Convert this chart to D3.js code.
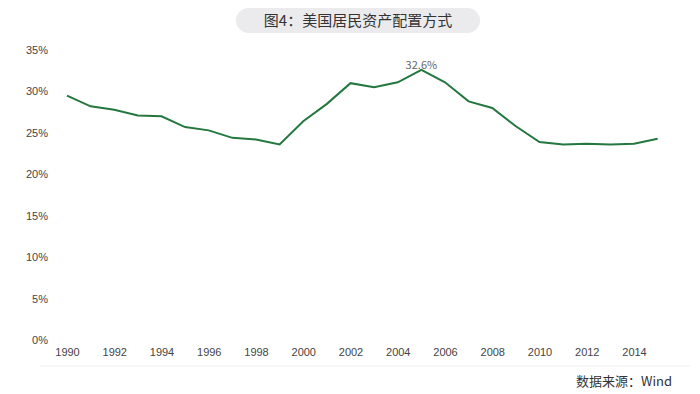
<!DOCTYPE html>
<html>
<head>
<meta charset="utf-8">
<script src="https://cdn.jsdelivr.net/npm/d3@7"></script>
<style>
  body { margin: 0; background: #fff; }
  svg { display: block; font-family: "Microsoft YaHei", "Noto Sans CJK SC", "Open Sans", sans-serif; }
</style>
</head>
<body>
<svg width="700" height="394"></svg>
<script>
const years = d3.range(1990, 2016);
const shares = [29.5, 28.2, 27.8, 27.1, 27.0, 25.7, 25.3, 24.4, 24.2, 23.6,
  26.4, 28.5, 31.0, 30.5, 31.1, 32.6, 31.1, 28.8, 28.0, 25.8,
  23.9, 23.6, 23.7, 23.6, 23.7, 24.3];
const yTicks = [0, 5, 10, 15, 20, 25, 30, 35];
const xTicks = d3.range(1990, 2015, 2);
const title = '图4：美国居民资产配置方式';
const source = '数据来源：Wind';

let svg = d3.select('svg');

const x = d3.scaleLinear().domain([1990, 2014]).range([67, 634]);
const y = d3.scaleLinear().domain([0, 35]).range([340, 50]);

// title pill
svg.append('rect')
    .attr('x', 236).attr('y', 8).attr('width', 244).attr('height', 25)
    .attr('rx', 12.5)
    .attr('fill', '#ebebee');
svg.append('text')
    .attr('x', 358).attr('y', 26)
    .attr('text-anchor', 'middle')
    .attr('font-size', 15)
    .attr('fill', '#333')
    .text(title);

// y axis labels
svg.append('g')
    .attr('transform', 'translate(48, 0)')
    .call(d3.axisLeft(y).tickValues(yTicks).tickSize(0).tickPadding(0).tickFormat(d => d + '%'))
    .call(g => g.select('.domain').remove())
    .call(g => g.selectAll('text').attr('font-size', 11).attr('fill', '#444').attr('font-family', 'inherit'));

// x axis labels
svg.append('g')
    .attr('transform', 'translate(0, 348)')
    .call(d3.axisBottom(x).tickValues(xTicks).tickSize(0).tickPadding(0).tickFormat(d3.format('d')))
    .call(g => g.select('.domain').remove())
    .call(g => g.selectAll('text').attr('font-size', 11).attr('fill', '#444').attr('font-family', 'inherit'));

// faint separator
svg.append('line')
    .attr('x1', 40).attr('x2', 690).attr('y1', 366).attr('y2', 366)
    .attr('stroke', '#eeeeee');

const line = d3.line()
    .x((d, i) => x(years[i]))
    .y(d => y(d));

svg.append('path')
    .attr('d', line(shares))
    .attr('fill', 'none')
    .attr('stroke', '#24773f')
    .attr('stroke-width', 2);

// peak label
const peak = d3.maxIndex(shares);
svg.append('text')
    .attr('x', x(years[peak]))
    .attr('y', y(shares[peak]) - 1)
    .attr('text-anchor', 'middle')
    .attr('font-size', 11)
    .attr('fill', '#666')
    .text(shares[peak].toFixed(1) + '%');

svg.append('text')
    .attr('x', 672).attr('y', 386)
    .attr('text-anchor', 'end')
    .attr('font-size', 13)
    .attr('fill', '#333')
    .text(source);
</script>
</body>
</html>
